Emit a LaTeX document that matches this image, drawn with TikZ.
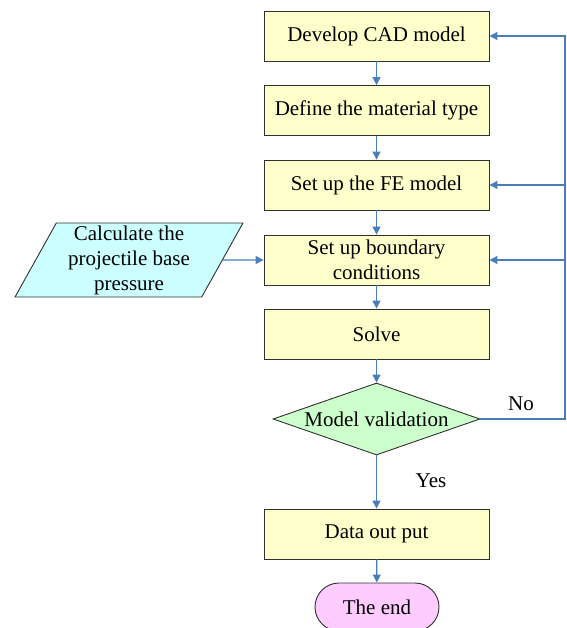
\documentclass[tikz,border=0pt]{standalone}
\usepackage{fontspec}
\setmainfont{Liberation Serif}
\usetikzlibrary{arrows.meta,shapes.geometric,shapes.misc}
\definecolor{procfill}{HTML}{FFFFCC}
\definecolor{parafill}{HTML}{CCFFFF}
\definecolor{diafill}{HTML}{CCFFCC}
\definecolor{endfill}{HTML}{FFCCFF}
\definecolor{flowblue}{HTML}{4A7EBB}
\definecolor{edge}{HTML}{303030}
\begin{document}
\begin{tikzpicture}[x=1pt,y=-1pt,
  txt/.style={font=\fontsize{21}{25}\selectfont, align=center},
  proc/.style={txt, draw=edge, line width=0.9pt, fill=procfill, minimum width=225pt, minimum height=50pt, inner sep=0pt},
  para/.style={txt, draw=edge, line width=0.9pt, fill=parafill, trapezium, trapezium left angle=63.4, trapezium right angle=116.6, trapezium stretches=true, minimum width=228pt, minimum height=74pt, inner sep=0pt},
  dec/.style={txt, draw=edge, line width=0.9pt, fill=diafill, diamond, aspect=2.875, minimum width=207pt, minimum height=72pt, inner sep=0pt},
  term/.style={txt, draw=edge, line width=0.9pt, fill=endfill, rounded rectangle, minimum width=124pt, minimum height=48pt, inner sep=0pt},
  flow/.style={draw=flowblue, line width=1.2pt, -{Triangle[length=8pt,width=8pt]}},
  plain/.style={draw=flowblue, line width=1.2pt}
]
\useasboundingbox (0,0) rectangle (566,628);
\node[proc] (b1) at (376.5,36) {Develop CAD model};
\node[proc] (b2) at (376.5,110.5) {Define the material type};
\node[proc] (b3) at (376.5,185) {Set up the FE model};
\node[proc] (b4) at (376.5,260) {Set up boundary\\conditions};
\node[proc] (b5) at (376.5,334) {Solve};
\node[dec] (dia) at (376.5,419) {Model validation};
\node[proc] (b6) at (376.5,534) {Data out put};
\node[term] (end) at (377,607) {The end};
\node[para] (calc) at (129,260) {Calculate the\\projectile base\\pressure};
\node[txt] (no) at (521,404) {No};
\node[txt] (yes) at (431,481) {Yes};
\coordinate (r1) at (565,419);
\coordinate (r2) at (565,36);
\draw[flow] (b1) -- (b2);
\draw[flow] (b2) -- (b3);
\draw[flow] (b3) -- (b4);
\draw[flow] (b4) -- (b5);
\draw[flow] (b5) -- (dia);
\draw[flow] (dia) -- (b6);
\draw[flow] (b6) -- (end);
\draw[flow] (calc.east) -- (b4.west);
\draw[flow] (dia.east) -- (r1) -- (r2) -- (b1.east);
\draw[flow] (b3.east -| r1) -- (b3.east);
\draw[flow] (b4.east -| r1) -- (b4.east);
\end{tikzpicture}
\end{document}
